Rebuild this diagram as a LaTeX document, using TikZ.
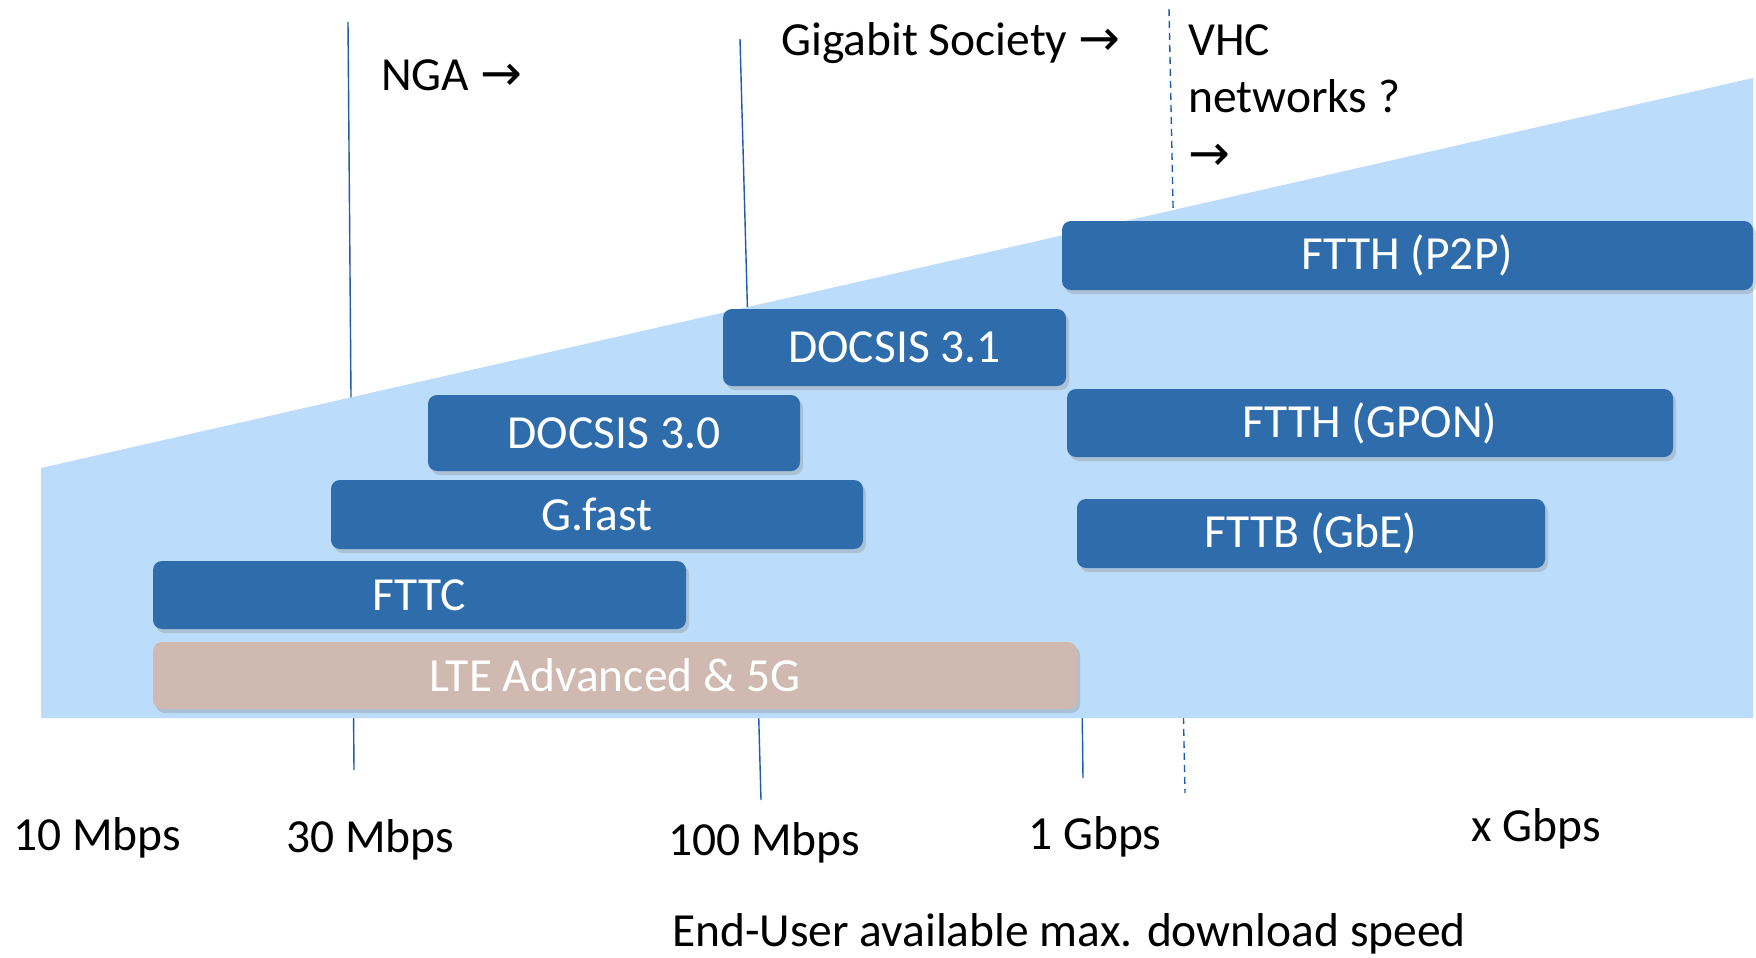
\documentclass[tikz,border=0pt]{standalone}
\usepackage{fontspec}
\setmainfont{Carlito}
\newfontfamily\arrowfont{DejaVu Sans}
\usetikzlibrary{shadows}
\definecolor{areablue}{RGB}{188,220,251}
\definecolor{boxblue}{RGB}{47,108,172}
\definecolor{ltecol}{RGB}{208,185,176}
\definecolor{linecol}{RGB}{30,90,175}
\newcommand{\ar}{{\arrowfont\fontsize{50}{56}\selectfont →}}
\tikzset{
  techbox/.style={rectangle, rounded corners=9pt, fill=boxblue, text=white, inner sep=0pt,
    font=\fontsize{47.5}{56}\selectfont,
    drop shadow={opacity=0.3, shadow xshift=3pt, shadow yshift=-4pt}},
  ltebox/.style={techbox, fill=ltecol},
  lbl/.style={inner sep=0pt, font=\fontsize{47.5}{56}\selectfont, text=black},
  speedline/.style={draw=linecol, line width=1.4pt},
  vhcline/.style={draw=linecol, line width=1.4pt, dash pattern=on 7pt off 5pt},
}
\begin{document}
\begin{tikzpicture}[x=1pt, y=-1pt]
\useasboundingbox (0,0) rectangle (1756,958);
\fill[white] (0,0) rectangle (1756,958);

% speed marker lines (partly hidden behind the area)
\coordinate (n30t) at (348,22);  \coordinate (n30b) at (354,770);
\coordinate (n100t) at (740,39); \coordinate (n100b) at (761,800);
\coordinate (vt) at (1169,9);    \coordinate (vb) at (1185,793);
\coordinate (g1t) at (1082,700); \coordinate (g1b) at (1083,778);
\draw[speedline] (n30t) -- (n30b);
\draw[speedline] (n100t) -- (n100b);
\draw[speedline] (g1t) -- (g1b);
\draw[vhcline] (vt) -- (vb);

% light blue area
\fill[areablue] (41,718) -- (41,468) -- (1753,78) -- (1753,718) -- cycle;

% technology boxes
\node[ltebox, minimum width=924pt, minimum height=67pt] (lte) at (615,675.5) {LTE Advanced \& 5G};
\node[techbox, minimum width=533pt, minimum height=68pt] (fttc) at (419.5,595) {FTTC};
\node[techbox, minimum width=532pt, minimum height=69pt] (gfast) at (597,514.5) {G.fast};
\node[techbox, minimum width=372pt, minimum height=76pt] (d30) at (614,433) {DOCSIS 3.0};
\node[techbox, minimum width=343pt, minimum height=77pt] (d31) at (894.5,347.5) {DOCSIS 3.1};
\node[techbox, minimum width=691pt, minimum height=69pt] (p2p) at (1407.5,255.5) {FTTH (P2P)};
\node[techbox, minimum width=606pt, minimum height=68pt] (gpon) at (1370,423) {FTTH (GPON)};
\node[techbox, minimum width=468pt, minimum height=69pt] (fttb) at (1311,533.5) {FTTB (GbE)};

% era labels
\node[lbl, anchor=base west] (nga) at (381,91) {NGA \ar};
\node[lbl, anchor=base west] (giga) at (781,56) {Gigabit Society \ar};
\node[lbl, anchor=base west] (vhc1) at (1188,56) {VHC};
\node[lbl, anchor=base west] (vhc2) at (1188,112) {networks ?};
\node[lbl, anchor=base west] (vhc3) at (1188,170) {\ar};

% speed labels
\node[lbl, anchor=base] (s10) at (97,850) {10 Mbps};
\node[lbl, anchor=base] (s30) at (370,852) {30 Mbps};
\node[lbl, anchor=base] (s100) at (764,855) {100 Mbps};
\node[lbl, anchor=base] (s1g) at (1095,849) {1 Gbps};
\node[lbl, anchor=base] (sxg) at (1536,841) {x Gbps};
\node[lbl, anchor=base] (axis) at (1069,946) {End-User available max. download speed};
\end{tikzpicture}
\end{document}
